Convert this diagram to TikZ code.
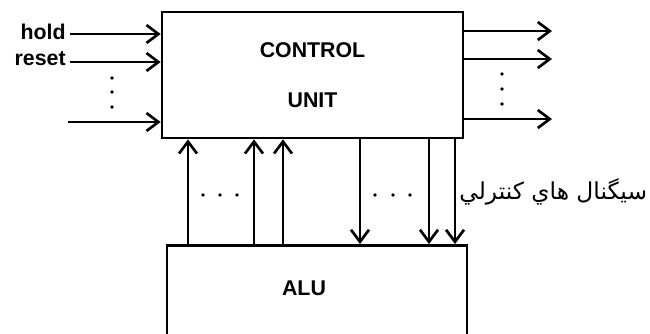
\documentclass[tikz,border=0pt]{standalone}
\usepackage{fontspec}
\setmainfont{Liberation Sans}
\newfontfamily\arabicfont[Script=Arabic]{DejaVu Sans}
\TeXXeTstate=1
\usetikzlibrary{arrows.meta}
\begin{document}
\begin{tikzpicture}[
  x=0.75pt, y=-0.75pt,
  line width=2pt,
  blk/.style={draw,rectangle,inner sep=0pt,align=center},
  lbl/.style={font=\fontsize{16}{19.2}\selectfont\bfseries,inner sep=0pt},
  arr/.style={-{Straight Barb[length=9pt,width=13.5pt]}},
  sig/.style={font=\fontsize{17.5}{20}\selectfont\arabicfont,inner sep=0pt}]
\useasboundingbox (0,0) rectangle (650,333);
\clip (0,0) rectangle (650,333);
% blocks
\node[blk,lbl,minimum width=225.75pt,minimum height=94.5pt] (ctl) at (312.5,75)
  {CONTROL\\[18.3pt]UNIT};
\node[blk,minimum width=225pt,minimum height=90pt,anchor=north] (alu) at (317,244) {};
\node[lbl] (alutxt) at (304,288) {ALU};
% inputs
\node[lbl,anchor=base east] (hold) at (67,39) {hold};
\node[lbl,anchor=base east] (reset) at (67,65) {reset};
\coordinate (i1) at (70,34);
\coordinate (i2) at (70,62);
\coordinate (i3) at (68,122);
\foreach \i in {1,2,3}
  \draw[arr] (i\i) -- (i\i -| ctl.west);
\foreach \y in {78,92,107}
  \fill (112,\y) circle (1.4pt);
% outputs
\coordinate (o1) at (552,31);
\coordinate (o2) at (552,59);
\coordinate (o3) at (552,119);
\foreach \i in {1,2,3}
  \draw[arr] (o\i -| ctl.east) -- (o\i);
\foreach \y in {74,89,104}
  \fill (502,\y) circle (1.4pt);
% alu <-> control
\foreach \x [count=\i] in {188,254,283}{
  \coordinate (up\i) at (\x,0);
  \draw[arr] (up\i |- alu.north) -- (up\i |- ctl.south);}
\foreach \x [count=\i] in {360,429,455}{
  \coordinate (dn\i) at (\x,0);
  \draw[arr] (dn\i |- ctl.south) -- (dn\i |- alu.north);}
\foreach \x in {203,220,237,375,393,410}
  \fill (\x,195) circle (1.4pt);
\node[sig,anchor=west] (ctrlsig) at (458,192) {\beginR سيگنال هاي كنترلي\endR};
\end{tikzpicture}
\end{document}
